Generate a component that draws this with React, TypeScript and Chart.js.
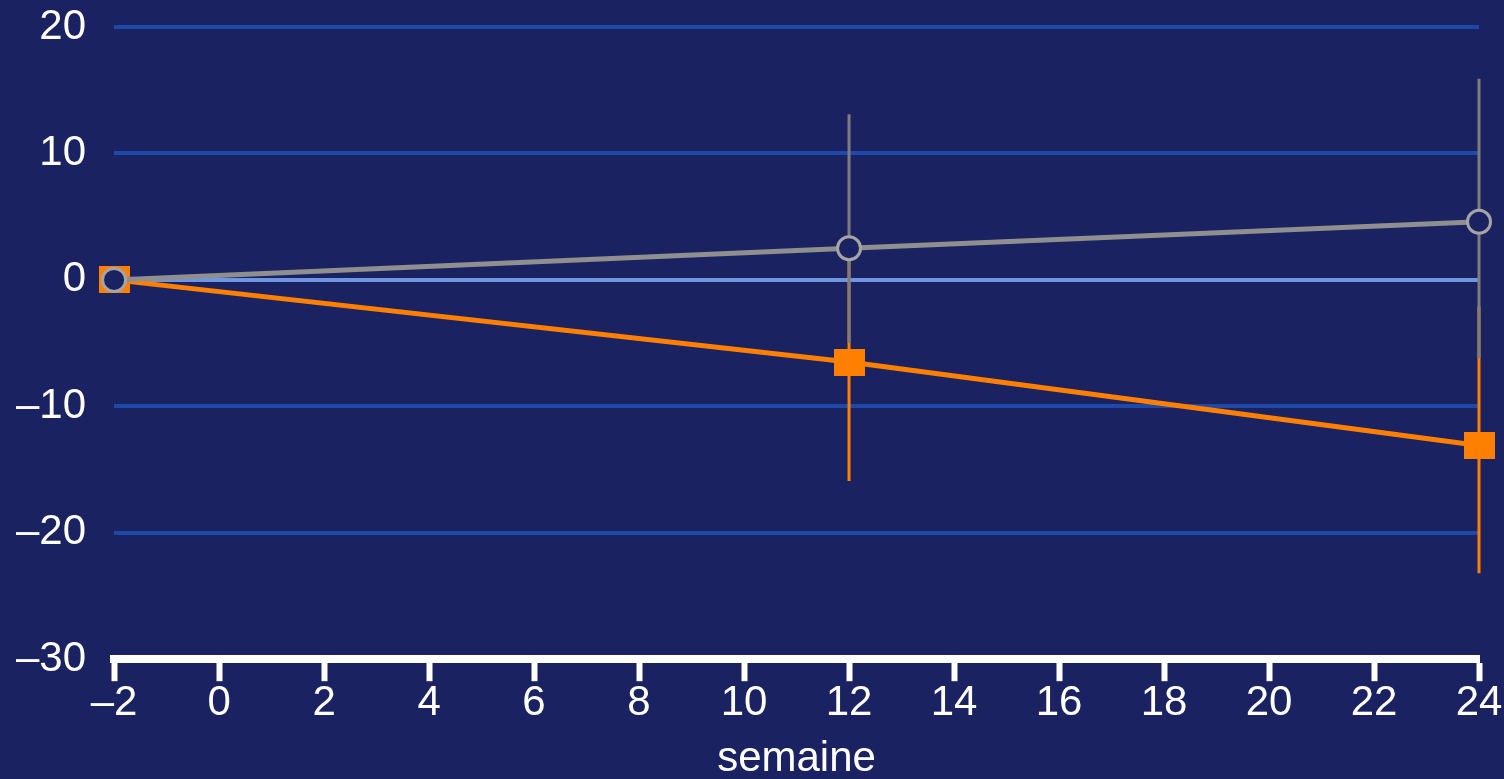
import React, { useEffect, useRef } from "react";
import { Chart, registerables } from "chart.js";

Chart.register(...registerables);

// ---- data ----
const weeks = [-2, 12, 24];
const placeboMean = [0, 2.5, 4.6];
const placeboLow = [null, -5.0, -6.2];
const placeboHigh = [null, 13.1, 15.9];
const treatedMean = [0, -6.5, -13.1];
const treatedLow = [null, -15.9, -23.2];
const treatedHigh = [null, 2.9, -2.1];
const xRange = [-2, 24];
const xStep = 2;
const yRange = [-30, 20];
const yStep = 10;
const xTitle = "semaine";

// ---- styles ----
const BG = "#1a2262";
const GRID = "#1f49a9";
const ZERO = "#6d95e2";
const GREY_LINE = "#8f8f8f";
const GREY_MARK = "#a5a5a5";
const GREY_ERR = "#7d7d7d";
const ORANGE = "#ff8000";
const FONT = "'Liberation Sans', Arial, sans-serif";

function pts(ys: (number | null)[]) {
  return weeks.map((w, i) => ({ x: w, y: ys[i] }));
}

function errPts(lo: (number | null)[], hi: (number | null)[]) {
  const out: { x: number; y: number | null }[] = [];
  weeks.forEach((w, i) => {
    if (lo[i] == null || hi[i] == null) return;
    out.push({ x: w, y: lo[i] }, { x: w, y: hi[i] }, { x: w, y: null });
  });
  return out;
}

function makeRect(w: number, h: number, color: string) {
  const c = document.createElement("canvas");
  c.width = w;
  c.height = h;
  const g = c.getContext("2d")!;
  g.fillStyle = color;
  g.fillRect(0, 0, w, h);
  return c;
}

const dash = (v: number) => String(v).replace("-", "\u2013");

export default function App() {
  const ref = useRef<HTMLCanvasElement | null>(null);

  useEffect(() => {
    if (!ref.current) return;
    const square = makeRect(31, 27, ORANGE);
    const chart = new Chart(ref.current, {
      type: "line",
      data: {
        datasets: [
          {
            label: "placebo",
            data: pts(placeboMean),
            borderColor: GREY_LINE,
            borderWidth: 5,
            pointRadius: 11.5,
            pointBorderWidth: 3,
            pointBorderColor: GREY_MARK,
            pointBackgroundColor: BG,
            pointStyle: "circle",
            order: 0,
            clip: false,
          },
          {
            label: "traitement",
            data: pts(treatedMean),
            borderColor: ORANGE,
            borderWidth: 5,
            pointStyle: square as any,
            pointRadius: 15,
            order: 1,
            clip: false,
          },
          {
            label: "placebo ET",
            data: errPts(placeboLow, placeboHigh),
            borderColor: GREY_ERR,
            borderWidth: 3,
            pointRadius: 0,
            spanGaps: false,
            order: 2,
            clip: false,
          },
          {
            label: "traitement ET",
            data: errPts(treatedLow, treatedHigh),
            borderColor: ORANGE,
            borderWidth: 3,
            pointRadius: 0,
            spanGaps: false,
            order: 3,
            clip: false,
          },
        ],
      },
      options: {
        animation: false,
        responsive: true,
        maintainAspectRatio: false,
        events: [],
        layout: { padding: { left: 16, right: 25, top: 27, bottom: 0 } },
        plugins: { legend: { display: false }, tooltip: { enabled: false } },
        scales: {
          x: {
            type: "linear",
            min: xRange[0],
            max: xRange[1],
            ticks: {
              stepSize: xStep,
              color: "#ffffff",
              font: { family: FONT, size: 42 },
              padding: -3,
              callback: (v: any) => dash(v),
            },
            grid: {
              drawOnChartArea: false,
              drawTicks: true,
              tickLength: 22,
              tickWidth: 6,
              tickColor: "#ffffff",
            },
            border: { display: true, width: 8, color: "#ffffff" },
            title: {
              display: true,
              text: xTitle,
              color: "#ffffff",
              font: { family: FONT, size: 42 },
              padding: { top: 9, bottom: -6 },
            },
          },
          y: {
            type: "linear",
            min: yRange[0],
            max: yRange[1],
            ticks: {
              stepSize: yStep,
              color: "#ffffff",
              font: { family: FONT, size: 42 },
              padding: 0,
              callback: (v: any) => dash(v),
            },
            grid: {
              drawTicks: true,
              tickLength: 28,
              tickColor: "rgba(0,0,0,0)",
              lineWidth: 4,
              color: (ctx: any) =>
                ctx.tick && ctx.tick.value === 0
                  ? ZERO
                  : ctx.tick && ctx.tick.value === yRange[0]
                  ? "rgba(0,0,0,0)"
                  : GRID,
            },
            border: { display: false },
          },
        },
      },
    });
    return () => chart.destroy();
  }, []);

  return (
    <div
      style={{
        position: "fixed",
        left: 0,
        top: 0,
        width: "100vw",
        height: "100vh",
        background: BG,
      }}
    >
      <canvas ref={ref} />
    </div>
  );
}
